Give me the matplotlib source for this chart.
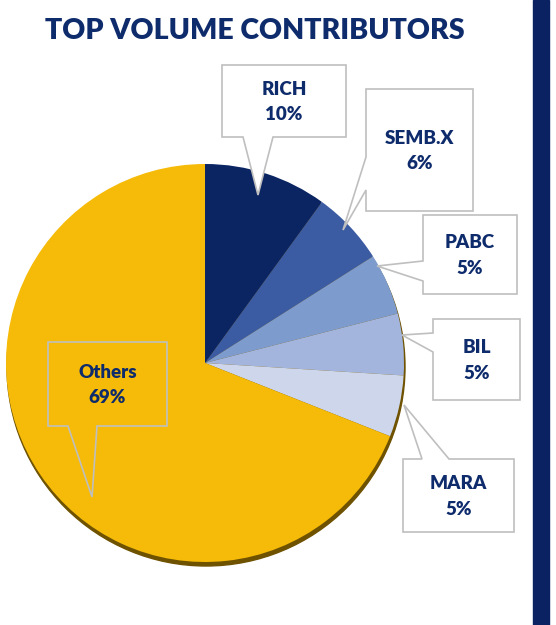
import matplotlib.pyplot as plt
from matplotlib.patches import Polygon, Rectangle, Circle

W, H = 556, 625

names = ['RICH', 'SEMB.X', 'PABC', 'BIL', 'MARA', 'Others']
shares = [10, 6, 5, 5, 5, 69]
colors = ['#0b2462', '#3b5ba2', '#7d9bcd', '#a3b5dc', '#cdd6eb', '#f6bb08']

navy = '#0e2b6c'
plt.rcParams['font.family'] = ['Lato', 'DejaVu Sans']

# callout layout in pixel coords (y down): box, pointer side, pointer base, tip
callouts = {
    'RICH':   dict(box=(222, 65, 346, 137), side='bottom', base=(243, 273), tip=(258, 195)),
    'SEMB.X': dict(box=(366, 89, 473, 211), side='left', base=(157, 190), tip=(343, 230)),
    'PABC':   dict(box=(423, 215, 517, 294), side='left', base=(261, 281), tip=(377, 266)),
    'BIL':    dict(box=(433, 319, 520, 400), side='left', base=(333, 352), tip=(402, 335)),
    'MARA':   dict(box=(403, 459, 514, 532), side='top', base=(422, 449), tip=(404, 405)),
    'Others': dict(box=(48, 342, 167, 426), side='bottom', base=(68, 97), tip=(92, 497)),
}


def outline(c):
    x0, y0, x1, y1 = c['box']
    a, b = c['base']
    t = c['tip']
    if c['side'] == 'bottom':
        pts = [(x0, y0), (x1, y0), (x1, y1), (b, y1), t, (a, y1), (x0, y1)]
    elif c['side'] == 'left':
        pts = [(x0, y0), (x1, y0), (x1, y1), (x0, y1), (x0, b), t, (x0, a)]
    else:
        pts = [(x0, y0), (a, y0), t, (b, y0), (x1, y0), (x1, y1), (x0, y1)]
    return [(x, H - y) for x, y in pts]


fig = plt.figure(figsize=(W / 100, H / 100), dpi=100)
ax = fig.add_axes([0, 0, 1, 1])

cx, cy, r = 205, H - 363, 199
ax.add_patch(Circle((cx + 1, cy - 4), r, color='#6e5200', zorder=1))
ax.pie(shares, colors=colors, startangle=90, counterclock=False,
       center=(cx, cy), radius=r, wedgeprops=dict(linewidth=0, zorder=2))

for name, pct in zip(names, shares):
    c = callouts[name]
    fc = 'none' if name == 'Others' else 'white'
    ax.add_patch(Polygon(outline(c), closed=True, facecolor=fc,
                         edgecolor='#bfbfbf', linewidth=1.2, zorder=5))
    x0, y0, x1, y1 = c['box']
    ax.text((x0 + x1) / 2, H - (y0 + y1) / 2 - 1, f'{name}\n{pct}%', ha='center', va='center',
            color=navy, fontsize=13.5, fontweight='heavy', linespacing=1.6, zorder=6)

ax.text(255, H - 31, 'TOP VOLUME CONTRIBUTORS', ha='center', va='center',
        color=navy, fontsize=20.5, fontweight='heavy')

# right border bar
ax.add_patch(Rectangle((533, 0), 16, H, color='#0a2261', zorder=3))

ax.set_xlim(0, W)
ax.set_ylim(0, H)
ax.set_aspect('auto')
ax.axis('off')
fig.savefig('out.png', dpi=100)
